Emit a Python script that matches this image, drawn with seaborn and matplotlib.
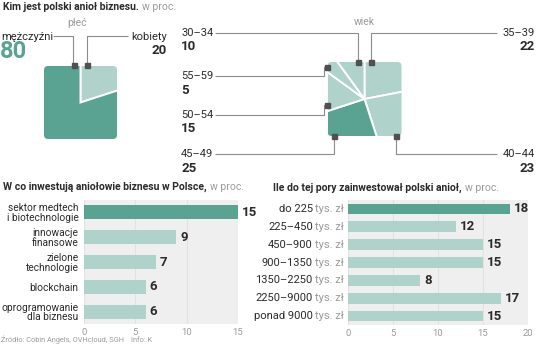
import matplotlib
matplotlib.use('Agg')
import matplotlib.pyplot as plt
import seaborn as sns
import pandas as pd
from matplotlib.patches import FancyBboxPatch

# --- data -------------------------------------------------------------
gender_labels = ['kobiety', 'mężczyźni']
gender_values = [20, 80]

age_labels = ['35–39', '40–44', '45–49', '50–54', '55–59', '30–34']
age_values = [22, 23, 25, 15, 5, 10]

sector_labels = ['sektor medtech\ni biotechnologie', 'innowacje\nfinansowe',
                 'zielone\ntechnologie', 'blockchain', 'oprogramowanie\ndla biznesu']
sector_values = [15, 9, 7, 6, 6]

amount_labels = ['do 225', '225–450', '450–900', '900–1350',
                 '1350–2250', '2250–9000', 'ponad 9000']
amount_values = [18, 12, 15, 15, 8, 17, 15]
amount_unit = 'tys. zł'

# --- style ------------------------------------------------------------
DARK = '#5aa393'
LIGHT = '#afd2ca'
TEXT = '#2a2a2a'
GREY = '#9a9a9a'
LINE = '#8c8c8c'
MARK = '#505050'

sns.set_theme(style='white')
plt.rcParams['font.family'] = ['Liberation Sans Narrow', 'Roboto', 'DejaVu Sans']

W, H = 536, 348
fig = plt.figure(figsize=(W / 100, H / 100), dpi=100)


def box(x0, y0, x1, y1):
    return [x0 / W, 1 - y1 / H, (x1 - x0) / W, (y1 - y0) / H]


ov = fig.add_axes([0, 0, 1, 1], zorder=5)
ov.set_xlim(0, W)
ov.set_ylim(H, 0)
ov.axis('off')
ov.patch.set_alpha(0)

fig.canvas.draw()
renderer = fig.canvas.get_renderer()


def two_part(x, y, first, second, size=7.5, weight='bold', color=TEXT, gap=3):
    t = ov.text(x, y, first, fontsize=size, fontweight=weight, color=color,
                ha='left', va='center')
    w = t.get_window_extent(renderer).width
    ov.text(x + w + gap, y, second, fontsize=size, color=GREY, ha='left', va='center')


def leader(xs, ys, mark):
    ov.plot(xs, ys, color=LINE, lw=0.8, solid_capstyle='butt')
    ov.plot([mark[0]], [mark[1]], marker='s', ms=3.6, color=MARK, mec=MARK)


def label_pair(x, y, name, value, ha):
    ov.text(x, y, name, fontsize=8, color=TEXT, ha=ha, va='center')
    ov.text(x, y + 14, str(value), fontsize=9.5, fontweight='bold',
            color=TEXT, ha=ha, va='center')


def square_pie(rect, values, colors):
    ax = fig.add_axes(rect)
    wedges, _ = ax.pie(values, colors=colors, startangle=90, counterclock=False,
                       radius=1.6, wedgeprops=dict(edgecolor='white', linewidth=1.4))
    ax.set_xlim(-1, 1)
    ax.set_ylim(-1, 1)
    ax.set_aspect('equal')
    ax.axis('off')
    clip = FancyBboxPatch((-1, -1), 2, 2, boxstyle='round,pad=0,rounding_size=0.11',
                          transform=ax.transData)
    for w in wedges:
        w.set_clip_on(True)
        w.set_clip_path(clip)
    return ax


# --- top: who is the Polish business angel ----------------------------
two_part(3, 7, 'Kim jest polski anioł biznesu.', 'w proc.')

ov.text(77, 23, 'płeć', fontsize=7.5, color=GREY, ha='center', va='center')
square_pie(box(44, 66, 117, 139), gender_values, [LIGHT, DARK])

ov.text(1, 37, gender_labels[1], fontsize=8, color=TEXT, ha='left', va='center')
ov.text(0, 52, str(gender_values[1]), fontsize=17, fontweight='bold', color=DARK,
        ha='left', va='center')
leader([53, 73, 73], [35.5, 35.5, 64], (74, 65))

label_pair(167, 37, gender_labels[0], gender_values[0], 'right')
leader([128, 87, 87], [35.5, 35.5, 64], (87, 65))

ov.text(364, 22, 'wiek', fontsize=7.5, color=GREY, ha='center', va='center')
age_colors = [DARK if lab == '45–49' else LIGHT for lab in age_labels]
square_pie(box(327, 62, 402, 136), age_values, age_colors)

age = dict(zip(age_labels, age_values))
label_pair(181, 33, '30–34', age['30–34'], 'left')
leader([215, 358, 358], [33, 33, 61], (358, 62))

label_pair(535, 33, '35–39', age['35–39'], 'right')
leader([497, 371, 371], [32.5, 32.5, 61], (371, 62))

label_pair(181, 76, '55–59', age['55–59'], 'left')
leader([215, 323.5, 323.5, 326], [76, 76, 67, 67], (327, 67))

label_pair(181, 115, '50–54', age['50–54'], 'left')
leader([215, 323.5, 323.5, 326], [115, 115, 105, 105], (327, 105))

label_pair(181, 154, '45–49', age['45–49'], 'left')
leader([215, 334, 334], [154, 154, 137], (334, 136))

label_pair(535, 154, '40–44', age['40–44'], 'right')
leader([497, 396, 396], [154, 154, 137], (396, 136))


# --- bottom: bar charts -----------------------------------------------
def bars(rect, labels, values, xmax, ticks, width, ysize):
    ax = fig.add_axes(rect)
    df = pd.DataFrame({'cat': labels, 'val': values})
    pal = [DARK] + [LIGHT] * (len(labels) - 1)
    sns.barplot(data=df, x='val', y='cat', hue='cat', palette=pal, legend=False,
                ax=ax, width=width, saturation=1, linewidth=0)
    ax.set_xlim(0, xmax)
    ax.set_xticks(ticks)
    ax.set_facecolor('#efefef')
    ax.grid(axis='x', color='#e2e2e2', lw=0.8)
    ax.grid(axis='y', visible=False)
    ax.set_axisbelow(True)
    for s in ax.spines.values():
        s.set_visible(False)
    ax.tick_params(axis='x', length=0, pad=3, labelsize=6.8, labelcolor=GREY)
    ax.tick_params(axis='y', length=0, pad=4, labelsize=ysize, labelcolor=TEXT)
    ax.set_xlabel('')
    ax.set_ylabel('')
    for c in ax.containers:
        ax.bar_label(c, padding=3, fontweight='bold', fontsize=9.5, color=TEXT)
    return ax


two_part(3, 187, 'W co inwestują aniołowie biznesu w Polsce,', 'w proc.')
ax1 = bars(box(84, 200, 238, 324), sector_labels, sector_values, 15,
           [0, 5, 10, 15], 0.57, 7.3)
for t in ax1.get_yticklabels():
    t.set_linespacing(0.95)

two_part(273, 188, 'Ile do tej pory zainwestował polski anioł,', 'w proc.')
ax2 = bars(box(348, 200, 528, 325), amount_labels, amount_values, 20,
           [0, 5, 10, 15, 20], 0.6, 8)
ax2.set_yticks(range(len(amount_labels)))
ax2.set_yticklabels([])
ax_w = 180.0
for i, lab in enumerate(amount_labels):
    u = ax2.text(-4 / ax_w, i, amount_unit, transform=ax2.get_yaxis_transform(),
                 fontsize=8, color=GREY, ha='right', va='center')
    uw = u.get_window_extent(renderer).width
    ax2.text(-(4 + uw + 2.5) / ax_w, i, lab, transform=ax2.get_yaxis_transform(),
             fontsize=8, color=TEXT, ha='right', va='center')

two_part(1, 340, 'Źródło: Cobin Angels, OVHcloud, SGH', 'Info: K', size=5.3,
         weight='normal', color=GREY, gap=7)

fig.savefig('out.png', dpi=100)
